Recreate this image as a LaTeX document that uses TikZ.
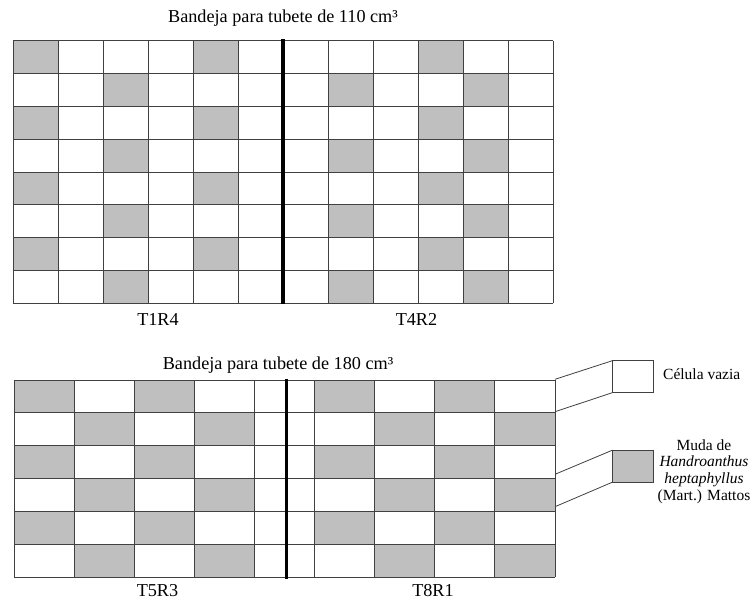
\documentclass[tikz,border=0pt]{standalone}
\usepackage{fontspec}
\setmainfont{Liberation Serif}
\begin{document}
\begin{tikzpicture}[x=1pt,y=-1pt,
  gridline/.style={draw=black!75, line width=0.9pt},
  cellfill/.style={fill=black!25},
  divider/.style={draw=black, line width=3.2pt},
  title/.style={font=\fontsize{18.2}{20}\selectfont, inner sep=0pt, anchor=base},
  legtext/.style={font=\fontsize{15.5}{18}\selectfont, inner sep=0pt, anchor=base},
  legbox/.style={draw=black!75, line width=0.9pt, minimum width=40.7pt, minimum height=32pt, inner sep=0pt, outer sep=0pt},
  zoomline/.style={draw=black!75, line width=0.8pt}]
\useasboundingbox (0,0) rectangle (752,601);

% ---------- top tray (110 cm3) ----------
\foreach \r in {0,2,4,6}{\foreach \c in {0,4,9}{
  \fill[cellfill] ({13+45*\c},{40.7+32.83*\r}) rectangle ++(45,32.83);}}
\foreach \r in {1,3,5,7}{\foreach \c in {2,7,10}{
  \fill[cellfill] ({13+45*\c},{40.7+32.83*\r}) rectangle ++(45,32.83);}}
\foreach \c in {0,...,12}{\draw[gridline] ({13+45*\c},40.7) -- ({13+45*\c},303.3);}
\foreach \r in {0,...,8}{\draw[gridline] (13,{40.7+32.83*\r}) -- (553,{40.7+32.83*\r});}
\draw[divider] (283,39) -- (283,304.5);

\node[title] (title1) at (283,23) {Bandeja para tubete de 110 cm³};
\node[title] (t1r4) at (158,325.5) {T1R4};
\node[title] (t4r2) at (416.5,325.5) {T4R2};

% ---------- bottom tray (180 cm3) ----------
\foreach \r in {0,2,4}{\foreach \c in {0,2,5,7}{
  \fill[cellfill] ({14.3+60.08*\c},{380+32.88*\r}) rectangle ++(60.08,32.88);}}
\foreach \r in {1,3,5}{\foreach \c in {1,3,6,8}{
  \fill[cellfill] ({14.3+60.08*\c},{380+32.88*\r}) rectangle ++(60.08,32.88);}}
\foreach \c in {0,...,9}{\draw[gridline] ({14.3+60.08*\c},380) -- ({14.3+60.08*\c},577.3);}
\foreach \r in {0,...,6}{\draw[gridline] (14.3,{380+32.88*\r}) -- (555,{380+32.88*\r});}
\draw[divider] (286.5,379) -- (286.5,578.5);

\node[title] (title2) at (278,369.5) {Bandeja para tubete de 180 cm³};
\node[title] (t5r3) at (157.5,596.5) {T5R3};
\node[title] (t8r1) at (433,596.5) {T8R1};

% ---------- legend ----------
\node[legbox, fill=white] (empty) at (632.7,376.7) {};
\node[legbox, cellfill] (plant) at (632.7,466.2) {};
\coordinate (e1) at (555,379.3);
\coordinate (e2) at (555,411.7);
\coordinate (p1) at (555,474.3);
\coordinate (p2) at (555,506.7);
\draw[zoomline] (e1) -- (empty.north west);
\draw[zoomline] (e2) -- (empty.south west);
\draw[zoomline] (p1) -- (plant.north west);
\draw[zoomline] (p2) -- (plant.south west);

\node[legtext, anchor=base west] (lab1) at (663,380) {Célula vazia};
\node[legtext] (lab2a) at (704,450) {Muda de};
\node[legtext] (lab2b) at (704,466.7) {\textit{Handroanthus}};
\node[legtext] (lab2c) at (704,483.3) {\textit{heptaphyllus}};
\node[legtext] (lab2d) at (704,500) {(Mart.) Mattos};
\end{tikzpicture}
\end{document}
